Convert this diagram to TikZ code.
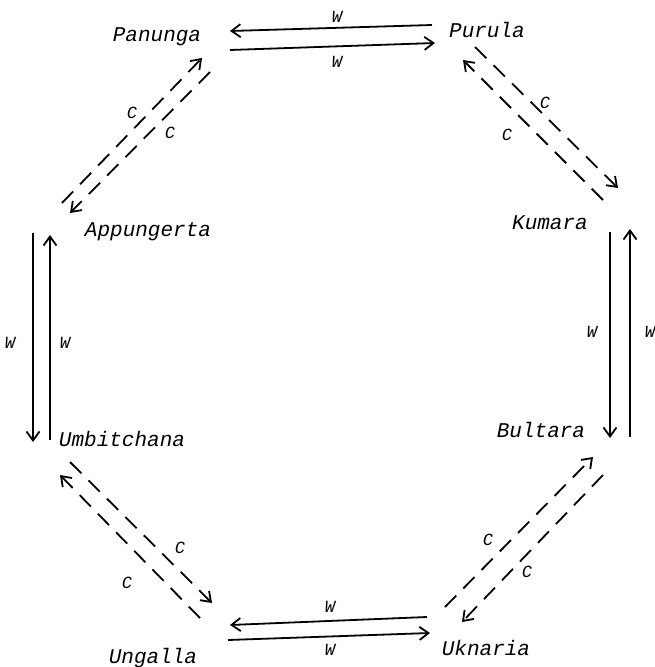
\documentclass[tikz,border=0pt]{standalone}
\usepackage{fontspec}
\newfontfamily\placefont{Liberation Mono}
\usetikzlibrary{arrows.meta}
\begin{document}
\begin{tikzpicture}[x=1pt,y=-1pt,line width=1.8pt,
  place/.style={font=\placefont\itshape\fontsize{21}{24}\selectfont},
  tag/.style={font=\placefont\itshape\fontsize{17}{19}\selectfont},
  wline/.style={-{Straight Barb[length=9pt,width=13pt]}},
  cline/.style={wline,dash pattern=on 16pt off 10pt}]
\useasboundingbox (0,0) rectangle (655,667);
% the eight places
\node[place] (pan) at (157,37) {Panunga};
\node[place] (pur) at (487,30) {Purula};
\node[place] (kum) at (550,223) {Kumara};
\node[place] (bul) at (541,430) {Bultara};
\node[place] (ukn) at (486,648) {Uknaria};
\node[place] (ung) at (153,658) {Ungalla};
\node[place] (umb) at (122,439) {Umbitchana};
\node[place] (app) at (148,232) {Appungerta};
% arrow ends
\coordinate (pp1) at (432,25); \coordinate (pp2) at (230,31);
\coordinate (pp3) at (230,50); \coordinate (pp4) at (435,43);
\coordinate (kb1) at (610,232); \coordinate (kb2) at (610,438);
\coordinate (kb3) at (630,437); \coordinate (kb4) at (630,229);
\coordinate (uu1) at (427,617); \coordinate (uu2) at (230,625);
\coordinate (uu3) at (228,640); \coordinate (uu4) at (430,633);
\coordinate (au1) at (33,233); \coordinate (au2) at (33,442);
\coordinate (au3) at (50,440); \coordinate (au4) at (50,235);
\coordinate (pa1) at (62,203); \coordinate (pa2) at (202,58);
\coordinate (pa3) at (210,72); \coordinate (pa4) at (70,213);
\coordinate (pk1) at (603,200); \coordinate (pk2) at (463,60);
\coordinate (pk3) at (475,47); \coordinate (pk4) at (618,188);
\coordinate (ug1) at (200,618); \coordinate (ug2) at (60,475);
\coordinate (ug3) at (70,462); \coordinate (ug4) at (212,603);
\coordinate (bu1) at (445,607); \coordinate (bu2) at (593,457);
\coordinate (bu3) at (603,475); \coordinate (bu4) at (462,622);
% W connectors
\draw[wline] (pp1) -- (pp2);
\draw[wline] (pp3) -- (pp4);
\draw[wline] (kb1) -- (kb2);
\draw[wline] (kb3) -- (kb4);
\draw[wline] (uu1) -- (uu2);
\draw[wline] (uu3) -- (uu4);
\draw[wline] (au1) -- (au2);
\draw[wline] (au3) -- (au4);
% C connectors
\draw[cline] (pa1) -- (pa2);
\draw[cline] (pa3) -- (pa4);
\draw[cline] (pk1) -- (pk2);
\draw[cline] (pk3) -- (pk4);
\draw[cline] (ug1) -- (ug2);
\draw[cline] (ug3) -- (ug4);
\draw[cline] (bu1) -- (bu2);
\draw[cline] (bu3) -- (bu4);
% labels
\node[tag] (w1) at (337,17) {W}; \node[tag] (w2) at (337,62) {W};
\node[tag] (w3) at (592,332) {W}; \node[tag] (w4) at (650,332) {W};
\node[tag] (w5) at (330,607) {W}; \node[tag] (w6) at (330,650) {W};
\node[tag] (w7) at (10,343) {W}; \node[tag] (w8) at (65,343) {W};
\node[tag] (c1) at (132,113) {C}; \node[tag] (c2) at (170,133) {C};
\node[tag] (c3) at (545,103) {C}; \node[tag] (c4) at (507,135) {C};
\node[tag] (c5) at (180,548) {C}; \node[tag] (c6) at (127,583) {C};
\node[tag] (c7) at (488,540) {C}; \node[tag] (c8) at (527,572) {C};
\end{tikzpicture}
\end{document}
